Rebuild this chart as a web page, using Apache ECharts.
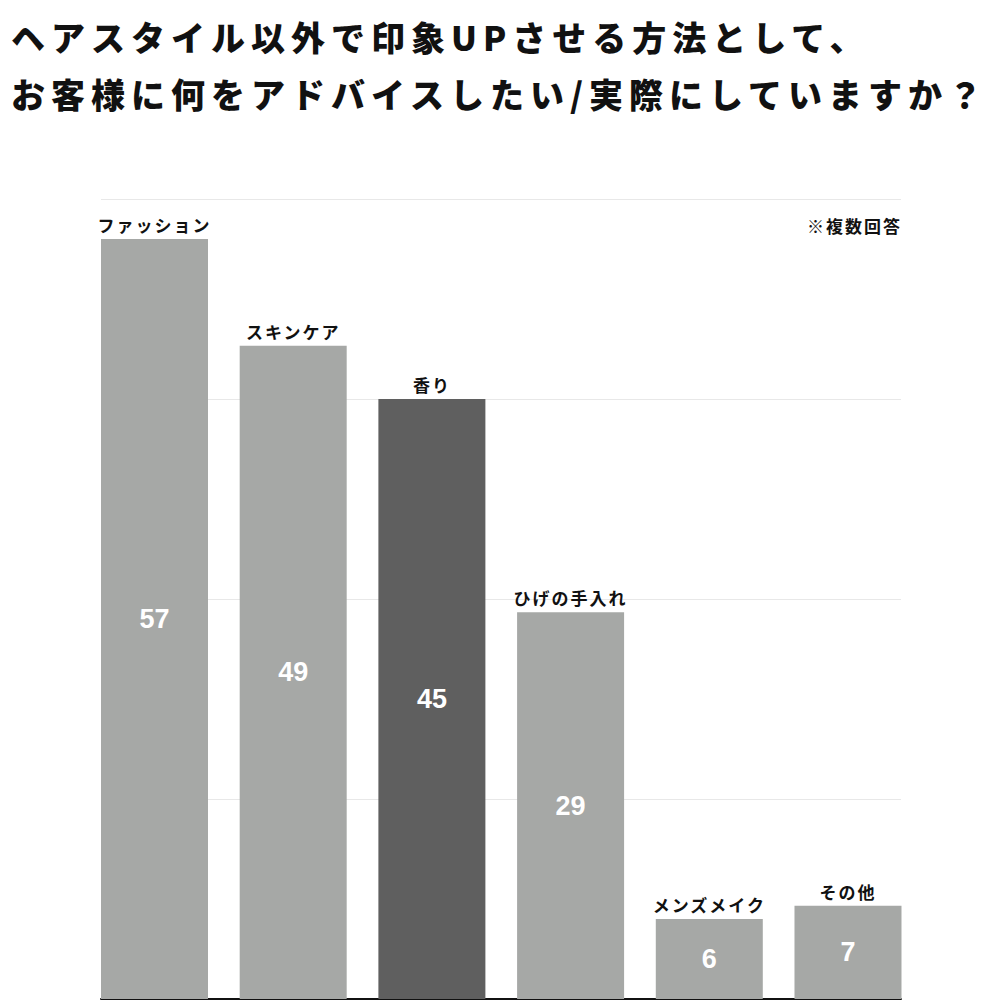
<!DOCTYPE html>
<html>
<head>
<meta charset="utf-8">
<script src="https://cdn.jsdelivr.net/npm/echarts@6/dist/echarts.min.js"></script>
<style>
  html, body { margin: 0; padding: 0; background: #ffffff; }
  #chart { width: 1000px; height: 1000px; }
  /* wide tracking for the Japanese headings and labels */
  #chart text[style*="34px"] { letter-spacing: 6px; }
  #chart text[style*="17px"] { letter-spacing: 2px; }
</style>
</head>
<body>
<div id="chart"></div>
<script>
// ---- data ----
const titleLines = [
  'ヘアスタイル以外で印象UPさせる方法として、',
  'お客様に何をアドバイスしたい/実際にしていますか？'
];
const categories = ['ファッション', 'スキンケア', '香り', 'ひげの手入れ', 'メンズメイク', 'その他'];
const values = [57, 49, 45, 29, 6, 7];
const highlighted = ['香り'];
const note = '※複数回答';
const yMin = 0;
const yMax = 60;
const yStep = 15;

// ---- styling ----
const LIGHT = '#a6a8a6';
const DARK = '#5f5f5f';
const JP_FONT = '"Noto Sans CJK JP", "Noto Sans", sans-serif';

// bars sit on a numeric x scale: index i -> bar centre
const xMin = -0.3857;
const xMax = 5.3822;

const barData = categories.map((name, i) => ({
  value: [i, values[i]],
  itemStyle: { color: highlighted.includes(name) ? DARK : LIGHT }
}));

const chart = echarts.init(document.getElementById('chart'), null, { renderer: 'svg' });

chart.setOption({
  animation: false,
  backgroundColor: '#ffffff',
  title: {
    text: titleLines.join('\n'),
    left: 6,
    top: 3,
    textStyle: {
      fontFamily: JP_FONT,
      fontSize: 34,
      fontWeight: 900,
      lineHeight: 57,
      color: '#111111'
    }
  },
  grid: { left: 101, right: 99, top: 199, bottom: 1, containLabel: false },
  xAxis: {
    type: 'value',
    min: xMin,
    max: xMax,
    axisLine: { show: true, onZero: true, lineStyle: { color: '#111111', width: 2 } },
    axisTick: { show: false },
    axisLabel: { show: false },
    splitLine: { show: false }
  },
  yAxis: {
    type: 'value',
    min: yMin,
    max: yMax,
    interval: yStep,
    axisLine: { show: false },
    axisTick: { show: false },
    axisLabel: { show: false },
    splitLine: { show: true, lineStyle: { color: '#e8e8e8', width: 1 } }
  },
  graphic: [{
    type: 'text',
    left: 807,
    top: 217,
    style: {
      text: note,
      fontFamily: JP_FONT,
      fontSize: 17,
      fontWeight: 'bold',
      fill: '#111111'
    }
  }],
  series: [
    {
      name: 'values',
      type: 'bar',
      barWidth: 107,
      barGap: '-100%',
      data: barData,
      label: {
        show: true,
        position: 'inside',
        formatter: p => String(p.value[1]),
        color: '#ffffff',
        fontFamily: '"Liberation Sans", Arial, sans-serif',
        fontSize: 27,
        fontWeight: 'bold'
      }
    },
    {
      name: 'names',
      type: 'bar',
      barWidth: 107,
      barGap: '-100%',
      silent: true,
      data: categories.map((name, i) => [i, values[i]]),
      itemStyle: { color: 'rgba(0,0,0,0)' },
      label: {
        show: true,
        position: 'top',
        distance: 6,
        formatter: p => categories[p.dataIndex],
        color: '#111111',
        fontFamily: JP_FONT,
        fontSize: 17,
        fontWeight: 'bold'
      }
    }
  ]
});
</script>
</body>
</html>
